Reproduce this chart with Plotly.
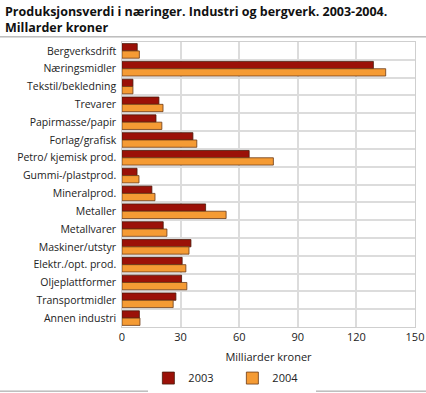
import plotly.graph_objects as go

categories = ["Bergverksdrift", "Næringsmidler", "Tekstil/bekledning", "Trevarer",
              "Papirmasse/papir", "Forlag/grafisk", "Petro/ kjemisk prod.", "Gummi-/plastprod.",
              "Mineralprod.", "Metaller", "Metallvarer", "Maskiner/utstyr",
              "Elektr./opt. prod.", "Oljeplattformer", "Transportmidler", "Annen industri"]
v2003 = [7.8, 128.7, 5.6, 18.9, 17.4, 36.3, 65.1, 7.7, 15.3, 42.8, 21.1, 35.3, 30.8, 30.5, 27.6, 8.9]
v2004 = [8.9, 135.0, 5.6, 21.0, 20.4, 38.3, 77.5, 8.7, 16.9, 53.3, 23.0, 34.3, 32.7, 33.2, 26.2, 9.2]
xticks = [0, 30, 60, 90, 120, 150]

FONT = "Open Sans, Segoe UI, DejaVu Sans, sans-serif"

fig = go.Figure()
fig.add_trace(go.Bar(y=categories, x=v2003, name="2003", orientation="h",
                     marker=dict(color="#9b1108", line=dict(color="#4a1a0a", width=0.8))))
fig.add_trace(go.Bar(y=categories, x=v2004, name="2004", orientation="h",
                     marker=dict(color="#f59b34", line=dict(color="#6b3a16", width=0.8))))

fig.update_layout(
    width=426, height=393,
    margin=dict(l=122, r=11, t=42, b=66, autoexpand=False),
    paper_bgcolor="white", plot_bgcolor="white",
    font=dict(family=FONT, size=11, color="#222"),
    barmode="group", bargap=0.18, bargroupgap=0,
    showlegend=True,
    legend=dict(orientation="h", x=0.09, xanchor="left", yref="container", y=0.038, yanchor="middle",
                font=dict(size=11), itemwidth=30, entrywidth=39, entrywidthmode="pixels",
                traceorder="normal"),
    annotations=[dict(text="<b>Produksjonsverdi i næringer. Industri og bergverk. 2003-2004.<br>Millarder kroner</b>",
                      xref="paper", yref="paper", x=-0.405, xanchor="left", y=1.145, yanchor="top",
                      align="left", showarrow=False,
                      font=dict(family=FONT, size=12.5, color="#111"))],
    shapes=[
        dict(type="line", xref="paper", yref="paper", x0=-0.42, x1=1.04, y0=1.018, y1=1.018,
             line=dict(color="#999", width=1)),
        dict(type="line", xref="paper", yref="paper", x0=-0.42, x1=1.04, y0=-0.225, y1=-0.225,
             line=dict(color="#999", width=1)),
    ],
)
fig.update_xaxes(range=[0, 150], tickvals=xticks, showgrid=True, gridcolor="#dcdcdc", gridwidth=1.5,
                 zeroline=False, showline=True, linecolor="#cfcfcf", mirror=True, automargin=False,
                 title=dict(text="Milliarder kroner", font=dict(size=11), standoff=17),
                 tickfont=dict(size=11), ticks="")
fig.update_yaxes(type="category", autorange="reversed", tickson="boundaries", automargin=False,
                 showgrid=True, gridcolor="#dcdcdc", gridwidth=1.5,
                 showline=True, linecolor="#cfcfcf", mirror=True, ticks="",
                 tickfont=dict(size=10.5), ticksuffix=" ")

fig.write_html("out.html", config={"displayModeBar": False},
               post_script="document.body.style.margin='0';")
